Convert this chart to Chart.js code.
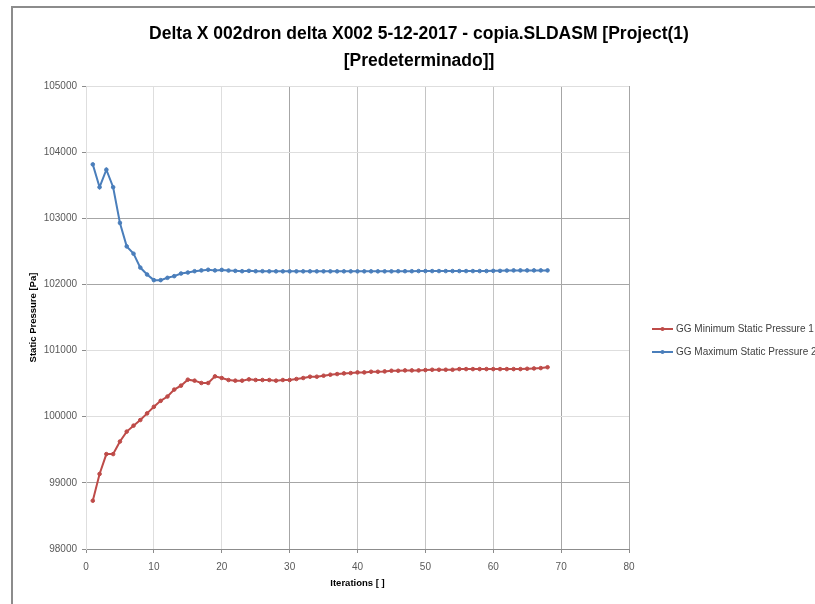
<!DOCTYPE html>
<html>
<head>
<meta charset="utf-8">
<script src="https://cdn.jsdelivr.net/npm/chart.js@4.4.1/dist/chart.umd.min.js"></script>
<style>
  html, body { margin: 0; padding: 0; background: #fff; }
  #wrap { position: relative; width: 815px; height: 604px; overflow: hidden; }
  #frame { position: absolute; left: 11px; top: 6px; width: 900px; height: 700px;
           border-left: 2px solid #8c8c8c; border-top: 2px solid #8c8c8c; }
  canvas { position: absolute; left: 0; top: 0; }
</style>
</head>
<body>
<div id="wrap">
  <div id="frame"></div>
  <canvas id="pressureChart" width="815" height="604"></canvas>
</div>
<script>
// iteration numbers (x)
const iterations = [
  1, 2, 3, 4, 5, 6, 7, 8, 9, 10, 11, 12, 13, 14, 15, 16, 17, 18, 19, 20,
  21, 22, 23, 24, 25, 26, 27, 28, 29, 30, 31, 32, 33, 34, 35, 36, 37, 38, 39, 40,
  41, 42, 43, 44, 45, 46, 47, 48, 49, 50, 51, 52, 53, 54, 55, 56, 57, 58, 59, 60,
  61, 62, 63, 64, 65, 66, 67, 68
];

// GG Minimum Static Pressure 1 [Pa]
const minPressure = [
  98730, 99135, 99435, 99435, 99625, 99775, 99865, 99950, 100050, 100150,
  100240, 100305, 100410, 100470, 100560, 100545, 100510, 100510, 100610, 100585,
  100555, 100545, 100545, 100565, 100555, 100555, 100555, 100545, 100555, 100555,
  100570, 100585, 100605, 100605, 100620, 100635, 100645, 100655, 100660, 100670,
  100670, 100680, 100680, 100685, 100695, 100695, 100700, 100700, 100700, 100705,
  100710, 100710, 100710, 100710, 100720, 100720, 100720, 100720, 100720, 100720,
  100720, 100720, 100720, 100720, 100725, 100730, 100735, 100748
];

// GG Maximum Static Pressure 2 [Pa]
const maxPressure = [
  103815, 103470, 103735, 103470, 102930, 102575, 102465, 102255, 102150, 102065,
  102065, 102100, 102125, 102165, 102180, 102200, 102212, 102222, 102212, 102220,
  102210, 102205, 102200, 102205, 102200, 102200, 102198, 102198, 102198, 102198,
  102198, 102198, 102198, 102198, 102198, 102198, 102198, 102198, 102198, 102198,
  102198, 102198, 102198, 102198, 102198, 102200, 102200, 102200, 102202, 102202,
  102202, 102202, 102202, 102202, 102202, 102202, 102202, 102202, 102202, 102205,
  102205, 102210, 102212, 102212, 102212, 102212, 102212, 102212
];

const seriesNames = ['GG Minimum Static Pressure 1', 'GG Maximum Static Pressure 2'];
const seriesColors = ['#BE4B48', '#4A7EBB'];

// x ticks 0..80, y ticks 98000..105000
const xTicks = [0, 10, 20, 30, 40, 50, 60, 70, 80];
const yTicks = [98000, 99000, 100000, 101000, 102000, 103000, 104000, 105000];

const toPoints = (vals) => vals.map((v, i) => ({ x: iterations[i], y: v }));

const FONT = "'Liberation Sans', Arial, sans-serif";

// some grid lines print darker than others
const darkX = [30, 70, 80];
const midX = [40, 50, 60];
const darkY = [98000, 99000, 102000, 103000];

// legend to the right of the plot: line + marker + label
const sideLegend = {
  id: 'sideLegend',
  afterDraw(chart) {
    const ctx = chart.ctx;
    const rows = [329, 352];
    ctx.save();
    chart.data.datasets.forEach((ds, i) => {
      const y = rows[i];
      ctx.strokeStyle = ds.borderColor;
      ctx.lineWidth = 2;
      ctx.beginPath();
      ctx.moveTo(652, y);
      ctx.lineTo(673, y);
      ctx.stroke();
      ctx.fillStyle = ds.borderColor;
      ctx.beginPath();
      ctx.arc(662.5, y, 2, 0, Math.PI * 2);
      ctx.fill();
      ctx.fillStyle = '#404040';
      ctx.font = "10px " + FONT;
      ctx.textBaseline = 'middle';
      ctx.textAlign = 'left';
      ctx.fillText(ds.label, 676, y + 0.5);
    });
    ctx.restore();
  }
};

const ctx = document.getElementById('pressureChart');

new Chart(ctx, {
  type: 'line',
  data: {
    datasets: [{
      label: seriesNames[0],
      data: toPoints(minPressure),
      borderColor: seriesColors[0],
      backgroundColor: seriesColors[0],
      borderWidth: 2,
      pointRadius: 1.8,
      pointBorderWidth: 1,
      tension: 0
    }, {
      label: seriesNames[1],
      data: toPoints(maxPressure),
      borderColor: seriesColors[1],
      backgroundColor: seriesColors[1],
      borderWidth: 2,
      pointRadius: 1.8,
      pointBorderWidth: 1,
      tension: 0
    }]
  },
  options: {
    responsive: false,
    animation: false,
    layout: { padding: { left: 23, right: 0, top: 0, bottom: 0 } },
    plugins: {
      legend: { display: false },
      tooltip: { enabled: false },
      title: {
        display: true,
        text: ['Delta X 002dron delta X002 5-12-2017 - copia.SLDASM [Project(1)', '[Predeterminado]]'],
        color: '#000',
        font: { family: FONT, size: 17.5, weight: 'bold', lineHeight: 1.543 },
        padding: { top: 21, bottom: 11 }
      }
    },
    scales: {
      x: {
        type: 'linear',
        min: 0,
        max: 80,
        afterBuildTicks: (s) => { s.ticks = xTicks.map(v => ({ value: v })); },
        afterFit: (s) => { s.height = 55; },
        ticks: { color: '#595959', padding: 8, font: { family: FONT, size: 10 } },
        grid: {
          color: (c) => darkX.includes(c.tick.value) ? '#a6a6a6' : midX.includes(c.tick.value) ? '#c4c4c4' : '#dedede',
          tickColor: '#8c8c8c',
          tickLength: 4
        },
        border: { color: '#8c8c8c' },
        title: {
          display: true,
          text: 'Iterations [ ]',
          color: '#000',
          font: { family: FONT, size: 9.5, weight: 'bold' },
          padding: { top: 0, bottom: 15.3 }
        }
      },
      y: {
        min: 98000,
        max: 105000,
        afterBuildTicks: (s) => { s.ticks = yTicks.map(v => ({ value: v })); },
        afterFit: (s) => { s.width = 63; },
        ticks: {
          color: '#595959',
          padding: 5,
          font: { family: FONT, size: 10 },
          callback: (v) => String(v)
        },
        grid: {
          color: (c) => darkY.includes(c.tick.value) ? '#a6a6a6' : '#dedede',
          tickColor: '#8c8c8c',
          tickLength: 4
        },
        border: { color: '#dedede' },
        title: {
          display: true,
          text: 'Static Pressure [Pa]',
          color: '#000',
          font: { family: FONT, size: 9.5, weight: 'bold' },
          padding: { top: 4.3, bottom: 0 }
        }
      },
      // empty axis reserving the legend column on the right
      legendSpace: {
        position: 'right',
        min: 0,
        max: 1,
        afterFit: (s) => { s.width = 186; },
        ticks: { display: false },
        grid: { display: false, drawTicks: false },
        border: { display: false }
      }
    }
  },
  plugins: [sideLegend]
});
</script>
</body>
</html>
